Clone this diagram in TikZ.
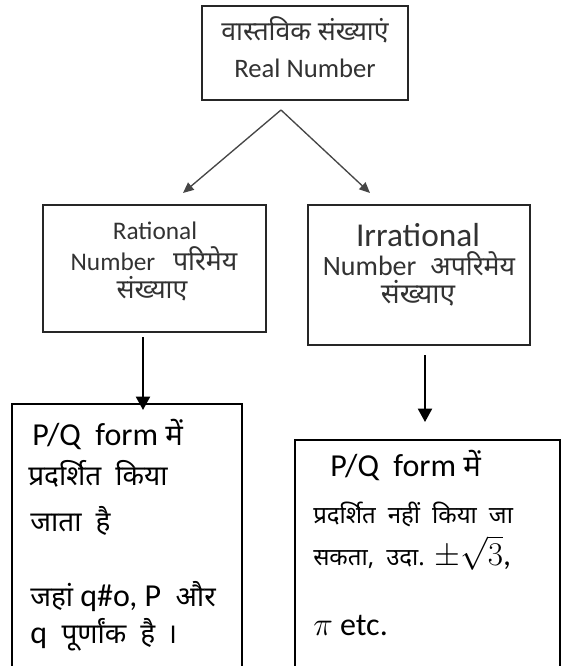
\documentclass[tikz,border=0pt]{standalone}
\usepackage{fontspec}
\setmainfont{Carlito}
\newfontfamily\hi[Script=Devanagari]{Noto Sans}
\newcommand{\hin}[2]{{\hi\fontsize{#1pt}{#1pt}\selectfont #2}}
\usetikzlibrary{arrows.meta}
\definecolor{txtgray}{RGB}{50,50,50}
\definecolor{linegray}{RGB}{70,70,70}
\begin{document}
\begin{tikzpicture}[x=0.75pt,y=-0.75pt,
  thickbox/.style={draw=black!85, line width=2.2pt, inner sep=0pt, rectangle},
  thinbox/.style={draw=black, line width=1pt, inner sep=0pt, rectangle},
  toptext/.style={anchor=base, text=txtgray, inner sep=0pt, font=\fontsize{20}{24}\selectfont},
  midtext/.style={anchor=base, text=txtgray, inner sep=0pt, font=\fontsize{19}{22}\selectfont},
  bottext/.style={anchor=base west, text=black, inner sep=0pt, font=\fontsize{24}{28}\selectfont},
  diagarrow/.style={draw=linegray, line width=1pt, -{Triangle[length=8pt,width=7pt]}},
  vertarrow/.style={draw=black, line width=1.5pt, -{Triangle[length=10pt,width=10.5pt]}}]
\clip (0,0) rectangle (564,666);
\fill[white] (0,0) rectangle (564,666);

% boxes
\node[thickbox, minimum width=154.5pt, minimum height=70.5pt] (top) at (305,53) {};
\node[thickbox, minimum width=167.25pt, minimum height=95.25pt] (rat) at (154.5,268.5) {};
\node[thickbox, minimum width=166.5pt, minimum height=105pt] (irr) at (419,275) {};
\node[thinbox, minimum width=172.5pt, minimum height=207pt] (bl) at (127,542) {};
\node[thinbox, minimum width=198.75pt, minimum height=180pt] (br) at (427.5,560) {};

% top text
\node[toptext] (t1) at (305,41) {\hi वास्तविक संख्याएं};
\node[toptext] (t2) at (305,78) {Real Number};

% rational text
\node[midtext] (r1) at (155,240) {Rational};
\node[midtext] (r2) at (154,270) {Number\hspace{0.7em}\hin{20}{परिमेय}};
\node[midtext] (r3) at (152,298) {\hin{20}{संख्याए}};

% irrational text
\node[midtext, font=\fontsize{25}{28}\selectfont] (i1) at (418,247) {Irrational};
\node[midtext, font=\fontsize{21}{24}\selectfont] (i2) at (419,275) {Number\hspace{0.5em}\hin{20}{अपरिमेय}};
\node[midtext] (i3) at (418,303) {\hin{21}{संख्याए}};

% bottom left text
\node[bottext] (bl1) at (32,445) {P/Q\ \ form \hin{22}{में}};
\node[bottext] (bl2) at (28,485) {\hin{21}{प्रदर्शित\hspace{0.5em}किया}};
\node[bottext] (bl3) at (30,531) {\hin{21}{जाता\hspace{0.5em}है}};
\node[bottext] (bl4) at (30,606) {\hin{21}{जहां} q\#o, P\ \ \hin{21}{और}};
\node[bottext] (bl5) at (30,643) {q\ \ \hin{21}{पूर्णांक\hspace{0.5em}है\hspace{0.4em}।}};

% bottom right text
\node[bottext] (br1) at (330,476) {P/Q\ \ form \hin{22}{में}};
\node[bottext] (br2) at (313,523) {\hin{18}{प्रदर्शित\hspace{0.5em}नहीं\hspace{0.5em}किया\hspace{0.5em}जा}};
\node[bottext] (br3) at (313,565) {\hin{18}{सकता,\hspace{0.5em}उदा.}\hspace{0.3em}$\pm\sqrt{3}$,};
\node[bottext] (br4) at (313,635) {{\fontsize{26}{28}\selectfont$\pi$} etc.};

% connectors
\coordinate (apex) at (281,110);
\coordinate (ltip) at (183,193);
\coordinate (rtip) at (370,193);
\draw[diagarrow] (apex) -- (ltip);
\draw[diagarrow] (apex) -- (rtip);

\coordinate (ra) at (143,337);
\coordinate (ratip) at (143,410);
\coordinate (ia) at (425,355);
\coordinate (iatip) at (425,422);
\draw[vertarrow] (ra) -- (ratip);
\draw[vertarrow] (ia) -- (iatip);
\end{tikzpicture}
\end{document}
